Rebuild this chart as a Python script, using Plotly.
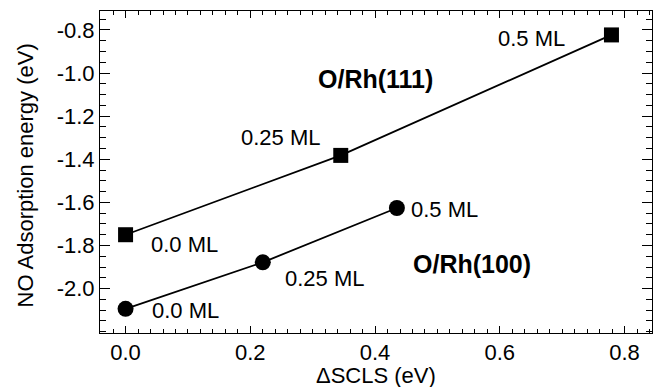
import plotly.graph_objects as go

# Data
coverage = ["0.0 ML", "0.25 ML", "0.5 ML"]
rh111_scls = [0.0, 0.345, 0.779]
rh111_energy = [-1.750, -1.382, -0.823]
rh100_scls = [0.0, 0.220, 0.435]
rh100_energy = [-2.094, -1.878, -1.626]

x_ticks = [0.0, 0.2, 0.4, 0.6, 0.8]
y_ticks = [-2.0, -1.8, -1.6, -1.4, -1.2, -1.0, -0.8]

FONT = "Liberation Sans, Arial, Helvetica, sans-serif"
FS = 22

fig = go.Figure()
fig.add_trace(go.Scatter(
    x=rh111_scls, y=rh111_energy, mode="lines+markers",
    line=dict(color="black", width=1.8),
    marker=dict(symbol="square", size=15, color="black"),
    showlegend=False, cliponaxis=False))
fig.add_trace(go.Scatter(
    x=rh100_scls, y=rh100_energy, mode="lines+markers",
    line=dict(color="black", width=1.8),
    marker=dict(symbol="circle", size=16, color="black"),
    showlegend=False, cliponaxis=False))

# label placement (anchor, pixel offsets) per point
lab111 = [("left", 23, -10), ("right", -18, 18), ("right", -44, -4)]
lab100 = [("left", 24, -2), ("left", 20, -16), ("left", 12, -2)]

annotations = []
for xs, ys, labs in ((rh111_scls, rh111_energy, lab111), (rh100_scls, rh100_energy, lab100)):
    for xv, yv, txt, (anc, dx, dy) in zip(xs, ys, coverage, labs):
        annotations.append(dict(x=xv, y=yv, xref="x", yref="y", text=txt,
                                showarrow=False, xanchor=anc, yanchor="middle",
                                xshift=dx, yshift=dy,
                                font=dict(family=FONT, size=FS, color="black")))

annotations.append(dict(x=0.400, y=-1.027, xref="x", yref="y", text="<b>O/Rh(111)</b>",
                        showarrow=False, xanchor="center", yanchor="middle",
                        font=dict(family=FONT, size=25, color="black")))
annotations.append(dict(x=0.555, y=-1.884, xref="x", yref="y", text="<b>O/Rh(100)</b>",
                        showarrow=False, xanchor="center", yanchor="middle",
                        font=dict(family=FONT, size=25, color="black")))

# axis titles
annotations.append(dict(x=0.5, y=-0.132, xref="paper", yref="paper", text="ΔSCLS (eV)",
                        showarrow=False, xanchor="center", yanchor="middle",
                        font=dict(family=FONT, size=FS, color="black")))
annotations.append(dict(x=-0.135, y=0.491, xref="paper", yref="paper",
                        text="NO Adsorption energy (eV)", textangle=-90,
                        showarrow=False, xanchor="center", yanchor="middle",
                        font=dict(family=FONT, size=FS, color="black")))

fig.update_layout(
    width=657, height=387,
    margin=dict(l=100, r=5, t=11, b=53.5),
    paper_bgcolor="white", plot_bgcolor="white",
    font=dict(family=FONT, size=FS, color="black"),
    annotations=annotations,
    xaxis=dict(
        range=[-0.041, 0.844], tickvals=x_ticks,
        ticktext=[f"{v:.1f}" for v in x_ticks],
        ticks="inside", ticklen=7, tickwidth=1, tickcolor="black",
        minor=dict(dtick=0.02, tick0=0, ticks="inside", ticklen=4, tickwidth=1, tickcolor="black"),
        showline=True, linecolor="black", linewidth=1, mirror="ticks",
        showgrid=False, zeroline=False, automargin=False,
        tickfont=dict(family=FONT, size=FS),
    ),
    yaxis=dict(
        range=[-2.206, -0.712], tickvals=y_ticks,
        ticktext=[f"{v:.1f}" for v in y_ticks],
        ticks="inside", ticklen=10, tickwidth=1, tickcolor="black",
        minor=dict(dtick=0.05, tick0=0, ticks="inside", ticklen=6, tickwidth=1, tickcolor="black"),
        showline=True, linecolor="black", linewidth=1, mirror="ticks",
        showgrid=False, zeroline=False, automargin=False,
        tickfont=dict(family=FONT, size=FS),
    ),
)

fig.write_html("out.html", config={"displayModeBar": False},
               post_script="document.body.style.margin='0';document.body.style.padding='0';document.body.style.overflow='hidden';")
